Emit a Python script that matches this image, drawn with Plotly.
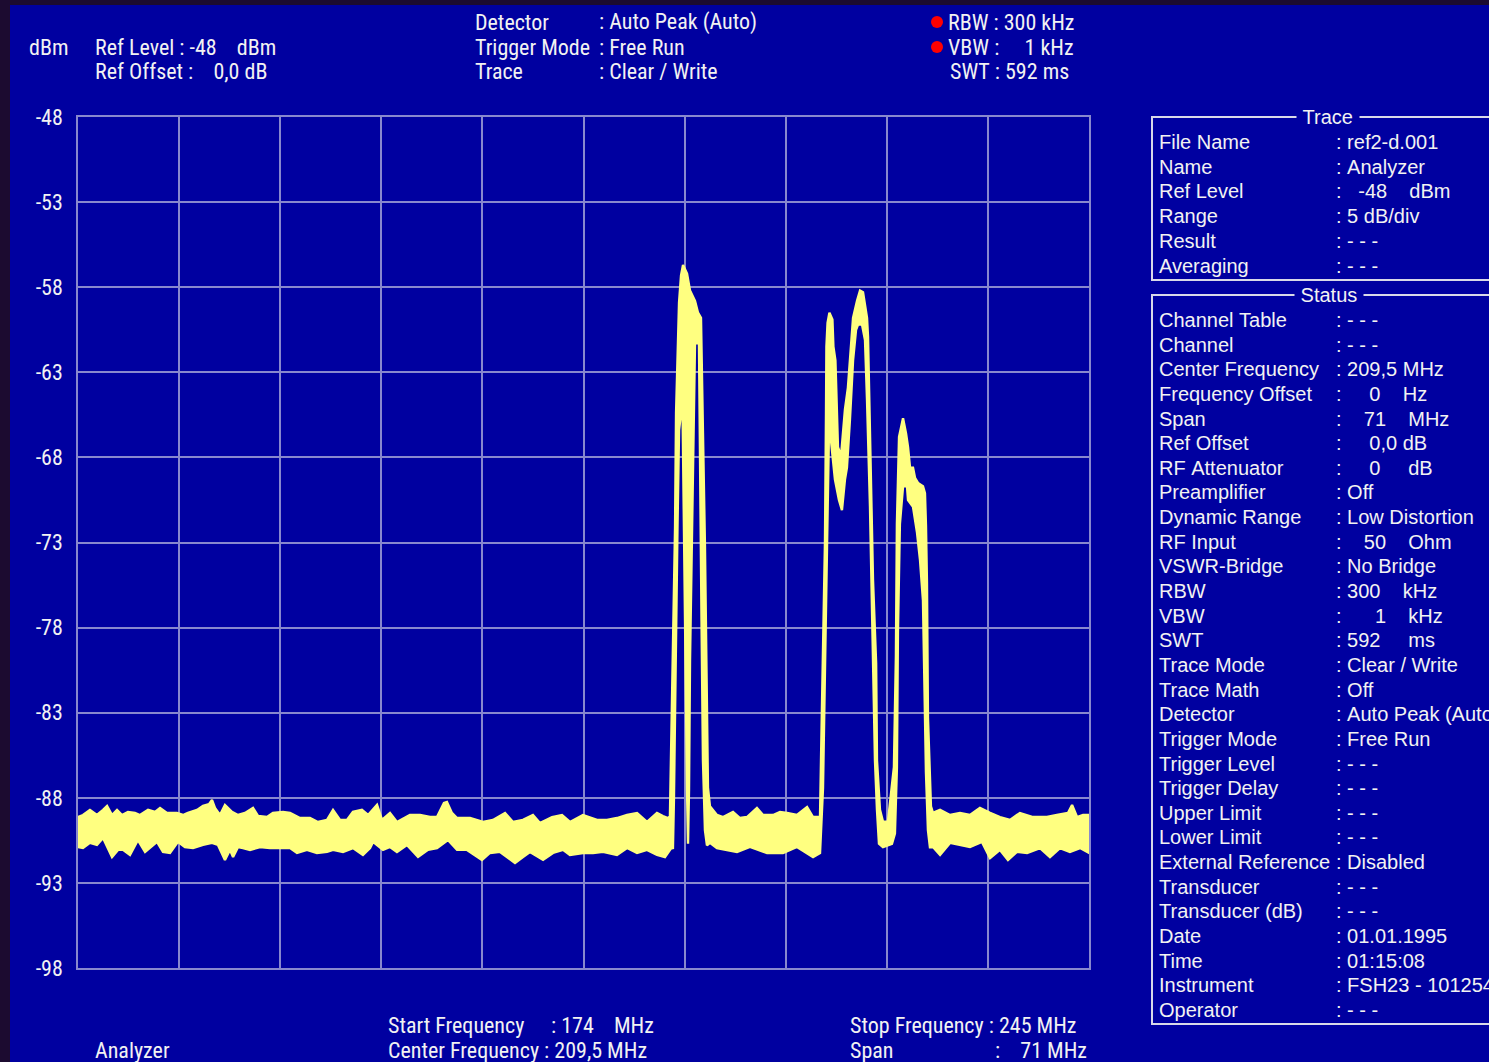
import plotly.graph_objects as go

# ---------------- data (MHz, dBm) ----------------
start_mhz, stop_mhz = 174.0, 245.0
ref_level, bottom_level = -48, -98
y_tick_values = [-48, -53, -58, -63, -68, -73, -78, -83, -88, -93, -98]
x_grid_values = [174.0, 181.1, 188.2, 195.3, 202.4, 209.5, 216.6, 223.7, 230.8, 237.9, 245.0]

# noise floor left of the first carrier: upper edge of the trace band
floor_left_top_f = [174.0, 174.35, 174.84, 175.33, 175.76, 176.04, 176.39, 176.74, 177.09, 177.51, 178.0, 178.35,
                    178.92, 179.41, 179.76, 180.25, 180.95, 181.37, 181.72, 182.36, 182.78, 183.2, 183.41, 183.62,
                    183.97, 184.32, 184.81, 185.24, 185.73, 186.29, 186.64, 187.27, 187.69, 188.4, 188.89, 189.59,
                    190.29, 190.85, 191.49, 191.91, 192.4, 192.89, 193.31, 193.94, 194.37, 194.86, 195.0, 195.35,
                    195.91, 196.4, 197.31, 198.02, 198.72, 199.21, 199.7, 199.91, 200.26, 200.62, 201.53, 202.44,
                    203.14, 203.99, 204.55, 205.25, 205.95, 206.44, 207.29, 207.99, 208.55, 209.46, 210.45, 211.15,
                    211.85, 212.56, 213.26, 213.96, 214.66, 215.08, 215.43]
floor_left_top_db = [-89.13, -89.01, -88.71, -89.01, -88.71, -88.48, -89.01, -88.71, -89.01, -88.83, -88.89, -89.01,
                     -88.71, -88.83, -88.60, -88.89, -88.89, -89.01, -88.89, -88.71, -88.48, -88.37, -88.13, -88.60,
                     -89.01, -88.42, -88.83, -89.01, -88.89, -88.60, -89.07, -89.13, -88.89, -88.83, -88.89, -89.19,
                     -89.19, -89.42, -89.30, -88.71, -89.30, -89.30, -88.83, -88.71, -89.01, -88.54, -88.42, -89.30,
                     -88.89, -89.42, -89.01, -89.01, -89.13, -89.13, -88.31, -88.25, -88.89, -89.19, -89.19, -89.42,
                     -89.30, -88.89, -89.42, -89.30, -89.01, -89.48, -89.13, -89.01, -89.42, -89.01, -89.30, -89.30,
                     -89.19, -89.01, -88.89, -89.42, -88.89, -89.07, -89.19]
# noise floor left: lower edge of the trace band
floor_left_bot_f = [174.0, 174.35, 174.84, 175.33, 175.76, 176.39, 176.81, 177.16, 177.65, 178.21, 178.71, 179.55,
                    179.97, 180.46, 181.02, 181.51, 182.08, 182.78, 183.41, 183.83, 184.32, 184.67, 184.89, 185.24,
                    185.59, 186.08, 186.78, 187.48, 188.19, 188.89, 189.38, 190.08, 190.78, 191.49, 191.91, 192.61,
                    193.31, 194.01, 194.51, 194.72, 195.42, 195.91, 196.4, 197.1, 197.88, 198.58, 199.21, 199.98,
                    200.62, 201.32, 202.37, 202.93, 203.64, 204.69, 205.25, 205.74, 206.66, 207.36, 208.06, 208.55,
                    209.46, 210.17, 210.87, 211.85, 212.56, 213.26, 213.96, 214.66, 215.22, 215.71]
floor_left_bot_db = [-90.89, -90.95, -90.65, -90.77, -90.36, -91.48, -91.06, -91.06, -91.36, -90.48, -91.18, -90.59,
                     -91.18, -91.24, -90.59, -90.89, -90.95, -90.77, -90.65, -90.77, -91.65, -91.06, -91.48, -90.89,
                     -90.95, -91.06, -90.89, -90.95, -90.95, -90.95, -91.24, -91.06, -91.24, -91.18, -91.06, -91.18,
                     -90.95, -91.36, -90.95, -90.59, -91.06, -90.89, -91.18, -90.77, -91.48, -91.06, -90.95, -90.48,
                     -91.06, -91.06, -91.65, -91.24, -91.18, -91.83, -91.48, -91.18, -91.65, -91.24, -91.06, -91.36,
                     -91.24, -91.24, -91.18, -91.36, -90.95, -91.24, -91.06, -91.36, -91.48, -90.89]

# first carrier (~216.6 MHz)
carrier1_top_f = [215.57, 215.64, 215.78, 215.93, 216.0, 216.14, 216.21, 216.35, 216.49, 216.77, 216.98, 217.33,
                  217.54, 217.75, 217.82, 217.89, 218.03, 218.17, 218.24, 218.38]
carrier1_top_db = [-89.1, -85.8, -78.7, -72.1, -65.4, -61.1, -58.9, -57.3, -56.7, -57.2, -58.2, -58.8,
                   -59.5, -59.8, -65.0, -66.6, -73.3, -82.4, -87.4, -88.5]
carrier1_bot_f = [215.78, 215.85, 215.99, 216.10, 216.21, 216.35, 216.46, 216.56, 216.70, 216.77, 216.84, 216.91,
                  216.98, 217.12, 217.26, 217.33, 217.61, 217.68, 217.79, 217.89, 218.03, 218.17]
carrier1_bot_db = [-91.0, -88.1, -80.0, -72.1, -66.4, -65.4, -65.4, -72.9, -82.3, -87.5, -90.7, -87.5,
                   -79.9, -71.7, -64.6, -61.3, -61.3, -67.6, -77.6, -85.8, -89.9, -90.8]

# noise floor between the carriers
floor_mid_top_f = [218.87, 219.30, 220.0, 220.49, 220.98, 221.68, 222.11, 222.81, 223.30, 223.79, 224.49, 225.20,
                   225.62, 226.04]
floor_mid_top_db = [-89.01, -89.13, -88.83, -89.19, -89.13, -88.60, -89.01, -89.01, -88.83, -88.89, -89.01, -88.54,
                    -89.13, -89.13]
floor_mid_bot_f = [218.38, 218.87, 219.58, 220.28, 221.19, 222.39, 223.51, 224.49, 225.62, 226.11]
floor_mid_bot_db = [-90.65, -90.95, -91.06, -91.18, -90.89, -91.24, -91.24, -90.89, -91.48, -91.24]

# second (double-humped) and third carriers
carrier23_top_f = [226.11, 226.18, 226.25, 226.32, 226.39, 226.46, 226.53, 226.56, 226.64, 226.71, 226.77, 226.98,
                   227.05, 227.19, 227.33, 227.37, 227.59, 227.86, 228.07, 228.21, 228.43, 228.71, 228.92, 229.13,
                   229.41, 229.48, 229.55, 229.62, 229.76, 229.83, 230.05, 230.11, 230.32, 230.53, 230.88, 231.30,
                   231.44, 231.51, 231.66, 231.87, 231.94, 232.15, 232.29, 232.43, 232.64, 232.78, 232.99, 233.34,
                   233.48, 233.55, 233.62, 233.69, 233.83, 233.90]
carrier23_top_db = [-89.13, -85.8, -82.4, -80.3, -76.4, -72.9, -65.5, -61.5, -60.1, -59.6, -59.5, -59.9,
                    -61.5, -62.3, -65.6, -67.4, -67.9, -65.2, -63.9, -62.1, -59.8, -58.8, -58.2, -58.3,
                    -59.8, -60.9, -63.6, -67.0, -70.9, -75.2, -80.1, -85.8, -88.7, -89.4, -89.4, -86.2,
                    -79.7, -71.9, -66.8, -66.0, -65.7, -66.6, -67.4, -68.6, -68.6, -69.2, -69.5, -69.7,
                    -70.1, -72.0, -75.4, -83.3, -86.2, -88.5]
carrier23_bot_f = [226.32, 226.46, 226.60, 226.74, 226.88, 227.16, 227.44, 227.65, 227.86, 228.0, 228.21, 228.43,
                   228.64, 228.78, 229.06, 229.27, 229.41, 229.62, 229.83, 229.97, 230.11, 230.25, 230.53, 231.16,
                   231.37, 231.51, 231.58, 231.72, 231.94, 232.22, 232.29, 232.64, 232.92, 233.13, 233.34, 233.48,
                   233.55, 233.69, 233.83]
carrier23_bot_db = [-87.4, -80.3, -73.3, -66.4, -67.0, -69.3, -70.5, -71.1, -69.3, -68.6, -65.8, -62.3,
                    -60.5, -60.2, -60.2, -61.1, -64.6, -70.9, -79.9, -85.8, -88.7, -90.7, -90.9, -90.7,
                    -90.1, -86.2, -78.3, -71.9, -69.7, -69.7, -70.5, -70.9, -72.4, -74.0, -76.4, -83.3,
                    -86.5, -89.9, -90.9]

# noise floor right of the carriers
floor_right_top_f = [234.04, 234.54, 235.24, 235.94, 236.64, 237.34, 238.05, 238.75, 239.45, 240.15, 241.07, 242.05,
                     242.75, 243.52, 243.81, 244.16, 244.58, 245.0]
floor_right_top_db = [-88.89, -88.71, -89.01, -88.89, -89.01, -88.60, -88.89, -89.13, -89.30, -88.89, -89.13, -89.13,
                      -89.01, -88.89, -88.42, -89.13, -89.01, -89.01]
floor_right_bot_f = [234.04, 234.54, 235.24, 235.94, 236.64, 237.48, 238.05, 238.75, 239.31, 239.94, 240.65, 241.56,
                     242.26, 242.96, 243.66, 244.37, 245.0]
floor_right_bot_db = [-90.89, -91.36, -90.65, -90.77, -90.89, -90.59, -91.54, -91.06, -91.65, -91.18, -91.24, -90.95,
                      -91.48, -90.95, -91.18, -90.95, -91.24]

# ---------------- text content ----------------
trace_rows = [("File Name", ": ref2-d.001"), ("Name", ": Analyzer"), ("Ref Level", ":   -48    dBm"),
              ("Range", ": 5 dB/div"), ("Result", ": - - -"), ("Averaging", ": - - -")]
status_rows = [("Channel Table", ": - - -"), ("Channel", ": - - -"), ("Center Frequency", ": 209,5 MHz"),
               ("Frequency Offset", ":     0    Hz"), ("Span", ":    71    MHz"), ("Ref Offset", ":     0,0 dB"),
               ("RF Attenuator", ":     0     dB"), ("Preamplifier", ": Off"), ("Dynamic Range", ": Low Distortion"),
               ("RF Input", ":    50    Ohm"), ("VSWR-Bridge", ": No Bridge"), ("RBW", ": 300    kHz"),
               ("VBW", ":      1    kHz"), ("SWT", ": 592     ms"), ("Trace Mode", ": Clear / Write"),
               ("Trace Math", ": Off"), ("Detector", ": Auto Peak (Auto)"), ("Trigger Mode", ": Free Run"),
               ("Trigger Level", ": - - -"), ("Trigger Delay", ": - - -"), ("Upper Limit", ": - - -"),
               ("Lower Limit", ": - - -"), ("External Reference", ": Disabled"), ("Transducer", ": - - -"),
               ("Transducer (dB)", ": - - -"), ("Date", ": 01.01.1995"), ("Time", ": 01:15:08"),
               ("Instrument", ": FSH23 - 101254"), ("Operator", ": - - -")]

# ---------------- styling ----------------
W, H = 1489, 1062
PL, PR, PT, PB = 78, 1089, 117, 968
BLUE = "#0000A0"
DARK = "#1C0B30"
GRID = "#8888CE"
YEL = "#FFFF80"
TXT = "#F2F2F2"
NARROW = "Liberation Sans Narrow, Arial Narrow, Roboto Condensed, sans-serif"
PANEL = "Liberation Sans, Arial, sans-serif"
HS = 22   # header font size
PS = 20   # panel font size


def fx(p):
    return (p - PL) / (PR - PL)


def fy(p):
    return (PB - p) / (PB - PT)


def nb(s):
    return s.replace(" ", "\u00a0")


top_f = floor_left_top_f + carrier1_top_f + floor_mid_top_f + carrier23_top_f + floor_right_top_f
top_db = floor_left_top_db + carrier1_top_db + floor_mid_top_db + carrier23_top_db + floor_right_top_db
bot_f = floor_left_bot_f + carrier1_bot_f + floor_mid_bot_f + carrier23_bot_f + floor_right_bot_f
bot_db = floor_left_bot_db + carrier1_bot_db + floor_mid_bot_db + carrier23_bot_db + floor_right_bot_db

fig = go.Figure()
fig.add_trace(go.Scatter(x=top_f + bot_f[::-1], y=top_db + bot_db[::-1], mode="lines", fill="toself",
                         fillcolor=YEL, line=dict(color=YEL, width=2.4), hoverinfo="skip", showlegend=False))
# sweep end marker
fig.add_trace(go.Scatter(x=[stop_mhz], y=[bottom_level - 0.42], mode="markers", cliponaxis=False,
                         marker=dict(symbol="triangle-up", size=13, color="#FFF060", line=dict(width=0)),
                         hoverinfo="skip", showlegend=False))

ann = []


def txt(x, y, s, size=HS, font=NARROW, anchor="left", bg=None):
    d = dict(x=fx(x), y=fy(y), xref="paper", yref="paper", text=nb(s), showarrow=False,
             xanchor=anchor, yanchor="middle", font=dict(family=font, size=size, color=TXT))
    if bg:
        d["bgcolor"] = bg
        d["borderpad"] = 0
    ann.append(d)


# header
txt(27, 47, "dBm")
txt(93, 47, "Ref Level : -48    dBm")
txt(93, 72, "Ref Offset :    0,0 dB")
txt(473, 22, "Detector")
txt(473, 47, "Trigger Mode")
txt(473, 72, "Trace")
txt(597, 22, ": Auto Peak (Auto)")
txt(597, 47, ": Free Run")
txt(597, 72, ": Clear / Write")
txt(946, 22, "RBW : 300 kHz")
txt(946, 47, "VBW :     1 kHz")
txt(948, 72, "SWT : 592 ms")
# footer
txt(93, 1050, "Analyzer")
txt(386, 1025, "Start Frequency")
txt(549, 1025, ": 174    MHz")
txt(386, 1050, "Center Frequency : 209,5 MHz")
txt(848, 1025, "Stop Frequency : 245 MHz")
txt(848, 1050, "Span")
txt(993, 1050, ":    71 MHz")

# right panel
for i, (k, v) in enumerate(trace_rows):
    yy = 142 + i * 24.7
    txt(1157, yy, k, size=PS, font=PANEL)
    txt(1334, yy, v, size=PS, font=PANEL)
for i, (k, v) in enumerate(status_rows):
    yy = 320 + i * 24.64
    txt(1157, yy, k, size=PS, font=PANEL)
    txt(1334, yy, v, size=PS, font=PANEL)
txt(1328, 117, " Trace ", size=PS, font=PANEL, anchor="center", bg=BLUE)
txt(1329, 295, " Status ", size=PS, font=PANEL, anchor="center", bg=BLUE)

shapes = [
    dict(type="rect", xref="paper", yref="paper", x0=fx(0), x1=fx(10), y0=fy(H), y1=fy(0),
         fillcolor=DARK, line=dict(width=0), layer="below"),
    dict(type="rect", xref="paper", yref="paper", x0=fx(0), x1=fx(W), y0=fy(5), y1=fy(0),
         fillcolor=DARK, line=dict(width=0), layer="below"),
    dict(type="rect", xref="paper", yref="paper", x0=fx(1152), x1=fx(1500), y0=fy(280), y1=fy(117),
         line=dict(color="#D8D8E8", width=2), layer="below"),
    dict(type="rect", xref="paper", yref="paper", x0=fx(1152), x1=fx(1500), y0=fy(1024), y1=fy(295),
         line=dict(color="#D8D8E8", width=2), layer="below"),
    dict(type="circle", xref="paper", yref="paper", x0=fx(931), x1=fx(943), y0=fy(28), y1=fy(16),
         fillcolor="#FF0000", line=dict(width=0)),
    dict(type="circle", xref="paper", yref="paper", x0=fx(931), x1=fx(943), y0=fy(53), y1=fy(41),
         fillcolor="#FF0000", line=dict(width=0)),
]

fig.update_layout(
    width=W, height=H, margin=dict(l=PL, r=W - PR, t=PT, b=H - PB, pad=0),
    paper_bgcolor=BLUE, plot_bgcolor=BLUE, annotations=ann, shapes=shapes, showlegend=False,
    xaxis=dict(range=[start_mhz, stop_mhz], tickvals=x_grid_values, showticklabels=False, ticks="",
               showgrid=True, gridcolor=GRID, gridwidth=1.5, zeroline=False, showline=True,
               linecolor=GRID, linewidth=1.5, mirror=True, fixedrange=True),
    yaxis=dict(range=[bottom_level, ref_level], tickvals=y_tick_values,
               ticktext=[str(v) for v in y_tick_values], ticks="", ticklabelstandoff=9,
               tickfont=dict(family=NARROW, size=HS, color=TXT),
               showgrid=True, gridcolor=GRID, gridwidth=1.5, zeroline=False, showline=True,
               linecolor=GRID, linewidth=1.5, mirror=True, fixedrange=True),
)

fig.write_html("out.html", config={"displayModeBar": False},
               post_script="document.body.style.margin='0';document.body.style.overflow='hidden';")
